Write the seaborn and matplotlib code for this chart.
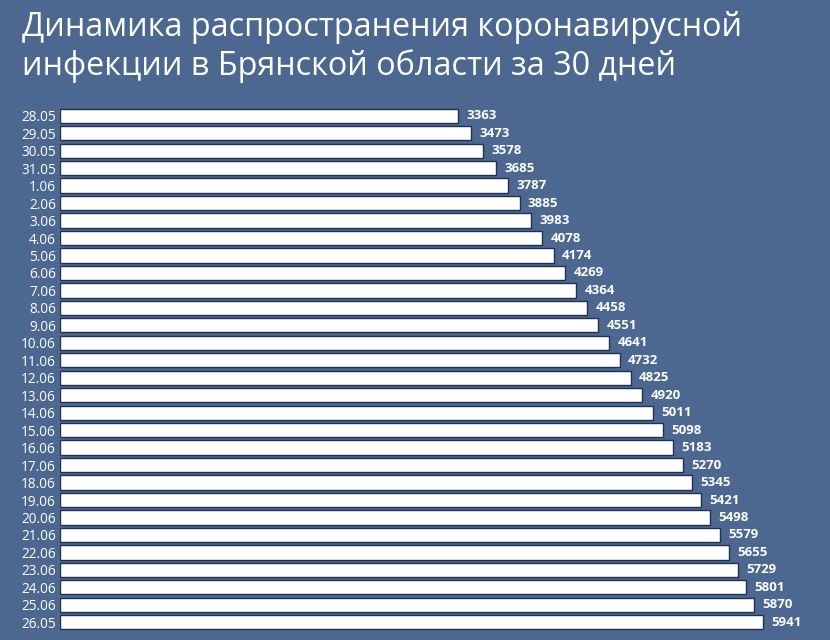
import numpy as np
import pandas as pd
import seaborn as sns
import matplotlib.pyplot as plt

dates = ['28.05', '29.05', '30.05', '31.05', '1.06', '2.06', '3.06', '4.06', '5.06', '6.06',
         '7.06', '8.06', '9.06', '10.06', '11.06', '12.06', '13.06', '14.06', '15.06', '16.06',
         '17.06', '18.06', '19.06', '20.06', '21.06', '22.06', '23.06', '24.06', '25.06', '26.05']
cases = [3363, 3473, 3578, 3685, 3787, 3885, 3983, 4078, 4174, 4269,
         4364, 4458, 4551, 4641, 4732, 4825, 4920, 5011, 5098, 5183,
         5270, 5345, 5421, 5498, 5579, 5655, 5729, 5801, 5870, 5941]
title = 'Динамика распространения коронавирусной\nинфекции в Брянской области за 30 дней'

bg = '#4c6891'
df = pd.DataFrame({'date': dates, 'cases': cases})

sns.set_theme(style='white')
plt.rcParams['font.family'] = ['Open Sans', 'DejaVu Sans']

fig = plt.figure(figsize=(8.3, 6.4), dpi=100, facecolor=bg)
ax = fig.add_axes([60 / 830, 1 - 631 / 640, 1 - 60 / 830, 524 / 640])
ax.set_facecolor(bg)

sns.barplot(data=df, x='cases', y='date', orient='h', color='white', width=0.82,
            edgecolor='#1f3050', linewidth=1.0, saturation=1, ax=ax)

ax.set_xlim(0, 6509)
for i, v in enumerate(cases):
    ax.text(v + 70, i, str(v), color='white', fontsize=9.5, fontweight='bold',
            va='center', ha='left')

ax.set_xlabel('')
ax.set_ylabel('')
ax.set_xticks([])
ax.tick_params(axis='y', length=0, pad=3, labelsize=9.8, labelcolor='white')
sns.despine(ax=ax, left=True, bottom=True)

fig.text(22 / 830, 1 - 11 / 640, title, color='white', fontsize=23.3,
         ha='left', va='top', linespacing=1.2)

fig.savefig('out.png', dpi=100, facecolor=bg)
